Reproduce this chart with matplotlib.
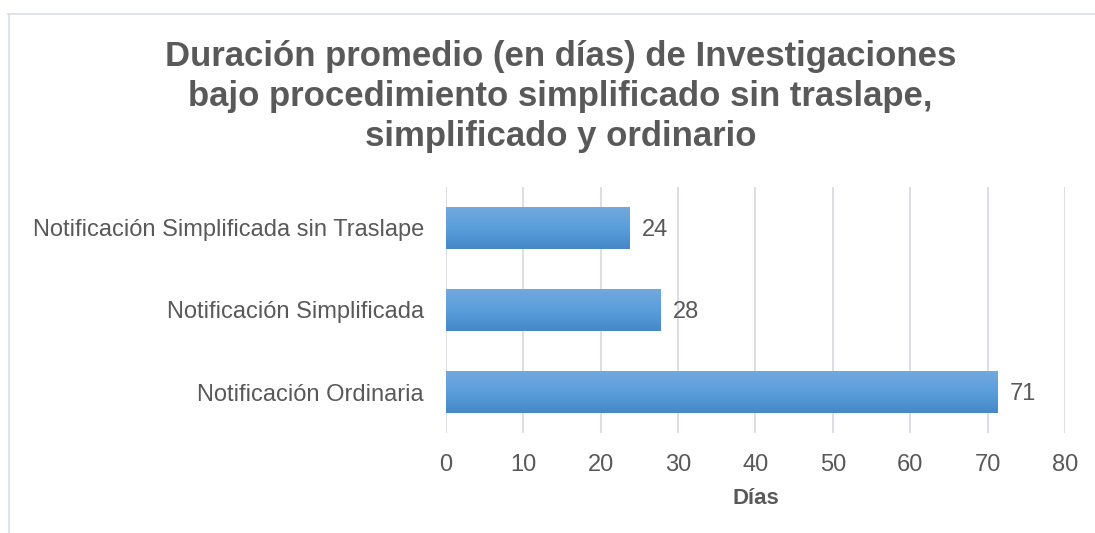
import numpy as np
import matplotlib.pyplot as plt
from matplotlib.lines import Line2D
from matplotlib.colors import LinearSegmentedColormap

categories = ["Notificación Ordinaria", "Notificación Simplificada",
              "Notificación Simplificada sin Traslape"]
dias = [71.3, 27.7, 23.7]
xticks = [0, 10, 20, 30, 40, 50, 60, 70, 80]

title = ("Duración promedio (en días) de Investigaciones\n"
         "bajo procedimiento simplificado sin traslape,\n"
         "simplificado y ordinario")

grey = "#595959"
plt.rcParams['font.family'] = ['Liberation Sans', 'DejaVu Sans']

fig = plt.figure(figsize=(10.95, 5.33), dpi=100)
ax = fig.add_axes([0.4073, 0.1876, 0.5653, 0.4616])

y = np.arange(len(categories))
bars = ax.barh(y, dias, height=0.51, color="none", zorder=3)

# vertical gradient in each bar
grad = np.linspace(0, 1, 100).reshape(-1, 1)
cmap = LinearSegmentedColormap.from_list("g", ["#4688C7", "#5A9EDC", "#72A8DE"])
for b in bars:
    x0, y0 = b.get_x(), b.get_y()
    w, h = b.get_width(), b.get_height()
    im = ax.imshow(grad, cmap=cmap, extent=[x0, x0 + w, y0, y0 + h],
                   aspect="auto", origin="lower", zorder=3)
    im.set_clip_path(b)

for b, v in zip(bars, dias):
    ax.text(v + 1.6, b.get_y() + b.get_height() / 2 - 0.02, f"{v:.0f}",
            va="center", ha="left", fontsize=17, color=grey)

ax.set_xlim(0, 80)
ax.set_ylim(-0.5, len(categories) - 0.5)
ax.set_xticks(xticks)
ax.set_yticks(y)
ax.set_yticklabels(categories)
ax.tick_params(axis="both", length=0, labelsize=17, labelcolor=grey)
ax.tick_params(axis="x", pad=15)
ax.tick_params(axis="y", pad=16)
ax.grid(axis="x", color="#D9DCE3", linewidth=1.3, zorder=0)
for s in ax.spines.values():
    s.set_visible(False)

ax.set_xlabel("Días", fontsize=16, fontweight="bold", color=grey, labelpad=9)

fig.text(0.512, 0.925, title, ha="center", va="top", fontsize=25,
         fontweight="bold", color=grey, linespacing=1.27)

# chart frame (top and left edges visible)
fig.add_artist(Line2D([8 / 1095, 1], [1 - 14 / 533] * 2, color="#D9DEE6", lw=1.2))
fig.add_artist(Line2D([8.5 / 1095] * 2, [0, 1 - 14 / 533], color="#D9DEE6", lw=1.2))

fig.savefig("out.png", dpi=100)
